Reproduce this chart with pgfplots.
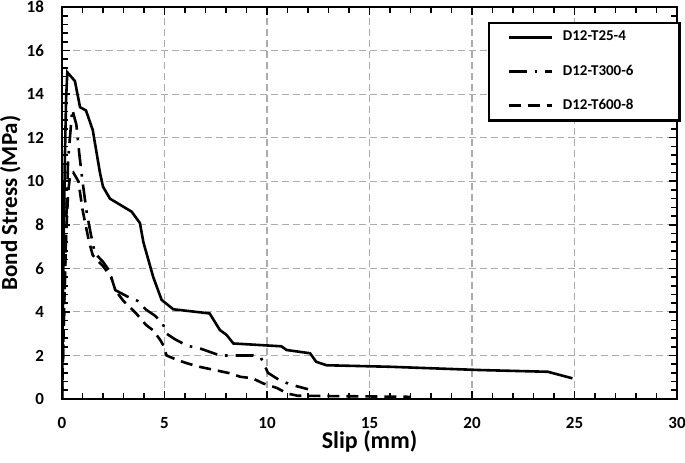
\documentclass[border=0pt]{standalone}
\usepackage{pgfplots}
\pgfplotsset{compat=1.18}
\usepackage{fontspec}
\setmainfont{Carlito}
\begin{document}
\begin{tikzpicture}
\begin{axis}[
    scale only axis,
    width=307.5pt,
    height=196pt,
    xmin=0, xmax=30,
    ymin=0, ymax=18,
    xtick={0,5,...,30},
    ytick={0,2,...,18},
    minor x tick num=4,
    minor y tick num=4,
    tick align=inside,
    major tick length=4pt,
    minor tick length=3pt,
    tick style={black, line width=0.8pt},
    axis line style={black, line width=1.1pt},
    grid=major,
    grid style={gray!65, line width=0.6pt, dash pattern=on 3.5pt off 2pt},
    xlabel={\textbf{Slip (mm)}},
    ylabel={\textbf{Bond Stress (MPa)}},
    xlabel style={font=\fontsize{12}{14}\selectfont, at={(axis description cs:0.5,-0.127)}, anchor=base},
    ylabel style={font=\fontsize{11.5}{13}\selectfont, at={(axis description cs:-0.073,0.5)}, anchor=base},
    ticklabel style={font=\fontsize{8.5}{10}\selectfont\bfseries},
    /pgf/number format/assume math mode=true,
    xticklabel style={yshift=-5.5pt},
    yticklabel style={xshift=-5.5pt},
    legend style={
        at={(0.693,0.962)}, anchor=north west,
        draw=black, line width=1.1pt,
        font=\fontsize{7.5}{9}\selectfont\bfseries,
        inner xsep=9pt, inner ysep=2pt,
        row sep=6.5pt,
        cells={anchor=west},
        /tikz/every odd column/.append style={column sep=3pt},
    },
    legend image code/.code={
        \draw[#1] (0cm,0cm) -- (21.5pt,0cm);
    },
    every axis plot/.append style={line width=1.3pt, black},
]

% D12-T25-4
\addplot[solid] coordinates {
    (0,0) (0.03,3) (0.08,7) (0.14,11) (0.2,13.8) (0.26,15.0)
    (0.63,14.6) (0.88,13.4) (1.17,13.25) (1.5,12.35) (1.85,10.4)
    (2.0,9.75) (2.34,9.2) (3.4,8.6) (3.8,8.08) (3.97,7.2) (4.45,5.6)
    (4.86,4.55) (5.43,4.12) (7.2,3.93) (7.7,3.17) (8.03,2.94) (8.36,2.55)
    (10.7,2.42) (10.96,2.25) (12.1,2.1) (12.4,1.71) (12.9,1.55) (16.0,1.48)
    (20.4,1.33) (23.7,1.25) (24.9,0.95)
};

% D12-T300-6
\addplot[dash pattern=on 9pt off 4pt on 1.3pt off 4pt] coordinates {
    (0,0) (0.1,4) (0.2,8) (0.3,11) (0.5,13.3) (0.7,12.6) (0.85,11.2)
    (1.0,10.0) (1.2,8.6) (1.4,7.6) (1.6,6.7) (2.0,6.3) (2.3,5.9)
    (2.6,5.0) (3.2,4.7) (3.7,4.5) (4.1,4.1) (4.5,3.85) (4.9,3.5)
    (5.1,3.0) (5.5,2.75) (6.1,2.45) (6.8,2.3) (7.7,2.0) (9.3,2.0)
    (9.7,1.9) (10.05,1.2) (10.6,0.87) (11.2,0.65) (12.0,0.45)
};

% D12-T600-8
\addplot[dash pattern=on 6pt off 3.5pt] coordinates {
    (0,0) (0.1,4) (0.2,7.5) (0.3,9.5) (0.4,10.3) (0.55,10.4) (0.8,10.0)
    (1.0,8.7) (1.3,7.3) (1.5,6.6) (2.0,6.1) (2.4,5.6) (2.6,5.0)
    (3.0,4.5) (3.6,3.95) (4.1,3.4) (4.45,3.15) (4.8,2.7) (4.95,2.45)
    (5.1,2.0) (5.6,1.8) (6.1,1.64) (6.7,1.48) (8.2,1.18) (8.7,1.02)
    (9.3,0.95) (9.8,0.72) (10.5,0.5) (11.0,0.25) (11.5,0.15) (17.0,0.1)
};

\legend{D12-T25-4\hspace*{12pt}, D12-T300-6\hspace*{12pt}, D12-T600-8\hspace*{12pt}}
\end{axis}
\pgfresetboundingbox
\path[use as bounding box] ([shift={(-31pt,-31.5pt)}]current axis.south west)
    rectangle ([shift={(4pt,3.5pt)}]current axis.north east);
\end{tikzpicture}
\end{document}
